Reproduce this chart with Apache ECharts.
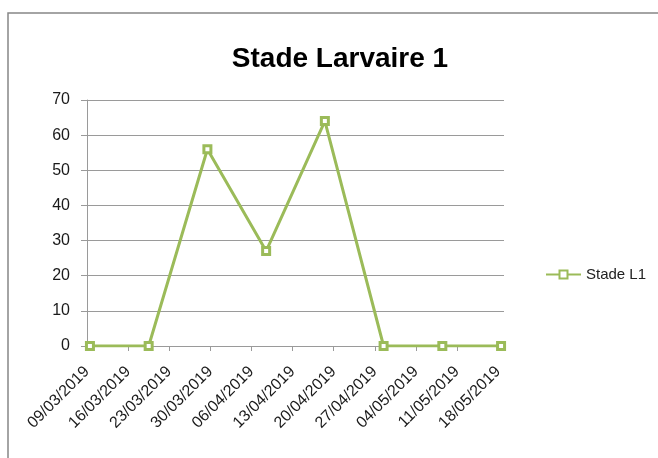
<!DOCTYPE html>
<html>
<head>
<meta charset="utf-8">
<script src="https://cdn.jsdelivr.net/npm/echarts@6/dist/echarts.min.js"></script>
<style>
  html, body { margin: 0; padding: 0; background: #fff; }
  #chart { width: 658px; height: 458px; }
</style>
</head>
<body>
<div id="chart"></div>
<script>
// sample dates (dd/mm/yyyy) and counts for L1 stage
const sampleDates = ['09/03/2019', '19/03/2019', '29/03/2019', '08/04/2019', '18/04/2019', '28/04/2019', '08/05/2019', '18/05/2019']
const stadeL1 = [0, 0, 56, 27, 64, 0, 0, 0]
// weekly labels on the date axis
const tickLabels = ['09/03/2019', '16/03/2019', '23/03/2019', '30/03/2019', '06/04/2019', '13/04/2019', '20/04/2019', '27/04/2019', '04/05/2019', '11/05/2019', '18/05/2019']
const yTicks = [0, 10, 20, 30, 40, 50, 60, 70]

const DAY = 86400000
const parseDate = (s) => {
  const [d, m, y] = s.split('/').map(Number)
  return Date.UTC(y, m - 1, d)
}
const start = parseDate(tickLabels[0])
const dayOf = (s) => Math.round((parseDate(s) - start) / DAY)

// excel-like date axis: each point sits in the middle of its day
const points = sampleDates.map((d, i) => [dayOf(d) + 0.5, stadeL1[i]])
const tickDays = tickLabels.map(dayOf)

const green = '#9bbb59'
const gray = '#9a9a9a'
const chart = echarts.init(document.getElementById('chart'))

chart.setOption({
  animation: false,
  textStyle: { fontFamily: 'Liberation Sans' },
  title: {
    text: 'Stade Larvaire 1',
    left: 335,
    textAlign: 'center',
    top: 40,
    textStyle: { fontSize: 28, fontWeight: 'bold', color: '#000', fontFamily: 'Liberation Sans' }
  },
  legend: {
    data: ['Stade L1'],
    left: 540,
    top: 262,
    itemWidth: 35,
    itemHeight: 10,
    textStyle: { fontSize: 15, color: '#222' }
  },
  grid: { left: 87, right: 154, top: 100, bottom: 112, containLabel: false },
  xAxis: {
    type: 'value',
    min: 0,
    max: tickDays[tickDays.length - 1] + 1,
    interval: 7,
    axisLine: { lineStyle: { color: gray, width: 1 } },
    axisTick: { show: true, length: 5, customValues: tickDays, lineStyle: { color: gray } },
    axisLabel: {
      customValues: tickDays,
      rotate: 45,
      margin: 23,
      fontSize: 16,
      color: '#1a1a1a',
      formatter: (v) => tickLabels[tickDays.indexOf(Math.round(v))] || ''
    },
    splitLine: { show: false }
  },
  yAxis: {
    type: 'value',
    min: 0,
    max: yTicks[yTicks.length - 1],
    interval: 10,
    axisLine: { show: true, lineStyle: { color: gray, width: 1 } },
    axisTick: { show: true, length: 6, lineStyle: { color: gray } },
    axisLabel: { fontSize: 16, color: '#1a1a1a', margin: 17 },
    splitLine: { lineStyle: { color: gray, width: 1 } }
  },
  series: [
    {
      name: 'Stade L1',
      type: 'line',
      data: points,
      symbol: 'rect',
      symbolSize: 7,
      lineStyle: { color: green, width: 3 },
      itemStyle: { color: '#fff', borderColor: green, borderWidth: 3 }
    }
  ],
  graphic: [
    { type: 'polyline', shape: { points: [[8, 458], [8, 13], [658, 13]] }, style: { stroke: '#878787', lineWidth: 1.5, fill: null } }
  ]
})
</script>
</body>
</html>
